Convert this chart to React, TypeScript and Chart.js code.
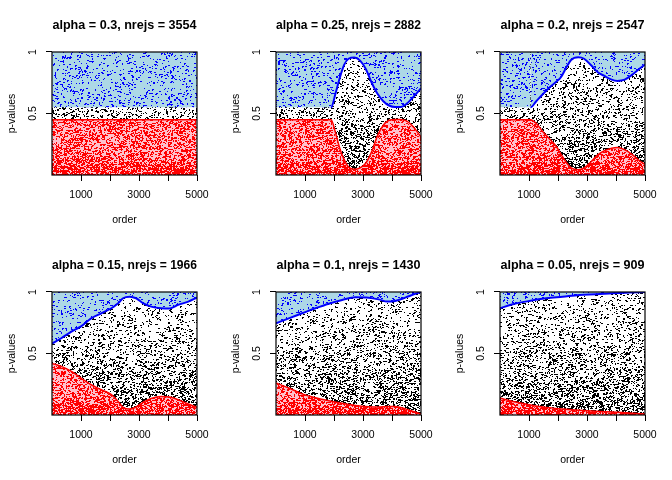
import React, { useEffect, useRef } from "react";
import { Chart, registerables } from "chart.js";

Chart.register(...registerables);

// ---------- data ----------
const panelTitles = [
  "alpha = 0.3, nrejs = 3554",
  "alpha = 0.25, nrejs = 2882",
  "alpha = 0.2, nrejs = 2547",
  "alpha = 0.15, nrejs = 1966",
  "alpha = 0.1, nrejs = 1430",
  "alpha = 0.05, nrejs = 909",
];

const order03 = [0, 5000];
const lower03 = [0.45, 0.45];
const upper03 = [0.55, 0.55];

const order025 = [0, 1900, 2050, 2200, 2350, 2500, 2700, 2900, 3100, 3300, 3500, 3700, 3900, 4100, 4300, 4500, 4700, 5000];
const upper025 = [0.55, 0.55, 0.66, 0.79, 0.895, 0.945, 0.955, 0.93, 0.86, 0.75, 0.66, 0.6, 0.565, 0.553, 0.553, 0.578, 0.625, 0.705];
const lower025 = [0.45, 0.45, 0.345, 0.215, 0.125, 0.065, 0.046, 0.058, 0.098, 0.19, 0.32, 0.405, 0.445, 0.452, 0.452, 0.44, 0.4, 0.31];

const order02 = [0, 1050, 1250, 1450, 1700, 1950, 2100, 2300, 2450, 2700, 2900, 3150, 3350, 3600, 3850, 4050, 4300, 4550, 4800, 5000];
const upper02 = [0.55, 0.55, 0.6, 0.65, 0.71, 0.76, 0.795, 0.88, 0.935, 0.957, 0.945, 0.89, 0.84, 0.805, 0.775, 0.765, 0.775, 0.814, 0.862, 0.898];
const lower02 = [0.45, 0.45, 0.42, 0.36, 0.295, 0.23, 0.17, 0.097, 0.058, 0.043, 0.058, 0.11, 0.16, 0.197, 0.218, 0.224, 0.205, 0.168, 0.118, 0.085];

const order015 = [0, 320, 670, 1000, 1350, 1700, 2050, 2280, 2450, 2680, 2900, 3150, 3420, 3770, 4060, 4350, 4700, 5000];
const upper015 = [0.58, 0.624, 0.678, 0.72, 0.786, 0.827, 0.868, 0.908, 0.949, 0.962, 0.949, 0.908, 0.881, 0.868, 0.866, 0.895, 0.922, 0.955];
const lower015 = [0.42, 0.395, 0.354, 0.3, 0.246, 0.205, 0.165, 0.11, 0.062, 0.048, 0.065, 0.105, 0.135, 0.15, 0.146, 0.124, 0.089, 0.062];

const order01 = [0, 440, 900, 1360, 1820, 2280, 2740, 3200, 3540, 3840, 4110, 4460, 4800, 5000];
const upper01 = [0.745, 0.786, 0.827, 0.868, 0.905, 0.935, 0.958, 0.954, 0.94, 0.922, 0.927, 0.954, 0.985, 1.0];
const lower01 = [0.26, 0.22, 0.172, 0.14, 0.115, 0.095, 0.078, 0.068, 0.065, 0.07, 0.07, 0.05, 0.024, 0.008];

const order005 = [0, 440, 1010, 1590, 2160, 2740, 3310, 3880, 4460, 5000];
const upper005 = [0.868, 0.9, 0.927, 0.949, 0.962, 0.976, 0.981, 0.989, 0.995, 1.0];
const lower005 = [0.138, 0.11, 0.084, 0.062, 0.049, 0.038, 0.03, 0.024, 0.016, 0.008];

// the level at which the upper band is capped (no blue line drawn there)
const flatUpperLevel = 0.55;

const xTickValues = [1000, 2000, 3000, 4000, 5000];
const xTickLabels = ["1000", "", "3000", "", "5000"];
const yTickValues = [0.5, 1];
const yTickLabels = ["0.5", "1"];

const panels = [
  { title: panelTitles[0], order: order03, lower: lower03, upper: upper03 },
  { title: panelTitles[1], order: order025, lower: lower025, upper: upper025 },
  { title: panelTitles[2], order: order02, lower: lower02, upper: upper02 },
  { title: panelTitles[3], order: order015, lower: lower015, upper: upper015 },
  { title: panelTitles[4], order: order01, lower: lower01, upper: upper01 },
  { title: panelTitles[5], order: order005, lower: lower005, upper: upper005 },
];

// ---------- styling ----------
const PANEL_W = 224;
const PANEL_H = 240;
const PLOT_TOP = 52;
const PLOT_BOTTOM = 175;
const FONT = "'Liberation Sans', Arial, Helvetica, sans-serif";

const WHITE = [255, 255, 255];
const BLACK = [0, 0, 0];
const PINK = [255, 192, 203];
const RED = [255, 0, 0];
const LIGHTBLUE = [173, 216, 230];
const BLUE = [0, 0, 255];

// speckle texture (fill style) – deterministic integer hash
function hash01(x: number, y: number, seed: number) {
  let h = (x * 73856093) ^ (y * 19349663) ^ (seed * 83492791);
  h = Math.imul(h ^ (h >>> 16), 0x45d9f3b);
  h = Math.imul(h ^ (h >>> 16), 0x45d9f3b);
  h ^= h >>> 16;
  return (h >>> 0) / 4294967296;
}

function makeTexture(
  ctx: CanvasRenderingContext2D,
  bg: number[],
  fg: number[],
  density: (v: number) => number,
  seed: number
) {
  const tile = document.createElement("canvas");
  tile.width = PANEL_W;
  tile.height = PANEL_H;
  const g = tile.getContext("2d")!;
  const on = new Uint8Array(PANEL_W * PANEL_H);
  const span = PLOT_BOTTOM - PLOT_TOP;
  for (let y = 0; y < PANEL_H; y++) {
    const v = Math.min(1, Math.max(0, (PLOT_BOTTOM - (y + 0.5)) / span));
    const p = density(v) / 1.6;
    for (let x = 0; x < PANEL_W; x++) {
      if (hash01(x, y, seed) < p) {
        on[y * PANEL_W + x] = 1;
        if (hash01(x, y, seed + 101) < 0.45 && x + 1 < PANEL_W) on[y * PANEL_W + x + 1] = 1;
        if (hash01(x, y, seed + 202) < 0.2 && y + 1 < PANEL_H) on[(y + 1) * PANEL_W + x] = 1;
      }
    }
  }
  const img = g.createImageData(PANEL_W, PANEL_H);
  for (let i = 0; i < on.length; i++) {
    const c = on[i] ? fg : bg;
    const k = i * 4;
    img.data[k] = c[0];
    img.data[k + 1] = c[1];
    img.data[k + 2] = c[2];
    img.data[k + 3] = 255;
  }
  g.putImageData(img, 0, 0);
  return ctx.createPattern(tile, "repeat")!;
}

const blackDensity = (v: number) => 0.15 + 0.4 * (1 - v) * (1 - v);
const redDensity = (v: number) => 0.5 + 0.48 * Math.exp(-(v / 0.1) * (v / 0.1));
const blueDensity = (_v: number) => 0.14;

function Panel({ index }: { index: number }) {
  const ref = useRef<HTMLCanvasElement>(null);

  useEffect(() => {
    const canvas = ref.current!;
    const ctx = canvas.getContext("2d")!;
    const p = panels[index];
    const blackTex = makeTexture(ctx, WHITE, BLACK, blackDensity, index * 3 + 1);
    const redTex = makeTexture(ctx, PINK, RED, redDensity, index * 3 + 2);
    const blueTex = makeTexture(ctx, LIGHTBLUE, BLUE, blueDensity, index * 3 + 3);

    const plotBackground = {
      id: "plotBackground",
      beforeDatasetsDraw(chart: any) {
        const a = chart.chartArea;
        const c = chart.ctx;
        c.save();
        c.fillStyle = blackTex;
        c.fillRect(a.left, a.top, a.right - a.left, a.bottom - a.top);
        c.restore();
      },
    };
    const plotBox = {
      id: "plotBox",
      afterDatasetsDraw(chart: any) {
        const a = chart.chartArea;
        const c = chart.ctx;
        c.save();
        c.strokeStyle = "#000";
        c.lineWidth = 1.2;
        c.strokeRect(a.left, a.top, a.right - a.left, a.bottom - a.top);
        c.restore();
      },
    };

    const axisFont = { family: FONT, size: 10.5 };

    const chart = new Chart(canvas, {
      type: "line",
      data: {
        datasets: [
          {
            label: "lower",
            data: p.order.map((o, i) => ({ x: o, y: p.lower[i] })),
            borderColor: "#ff0000",
            borderWidth: 1.5,
            backgroundColor: redTex as any,
            fill: "start",
            pointRadius: 0,
            cubicInterpolationMode: "monotone",
          },
          {
            label: "upper",
            data: p.order.map((o, i) => ({ x: o, y: p.upper[i] })),
            borderColor: "#0000ff",
            borderWidth: 2,
            backgroundColor: blueTex as any,
            fill: "end",
            pointRadius: 0,
            cubicInterpolationMode: "monotone",
            segment: {
              borderColor: (sc: any) =>
                sc.p0.parsed.y <= flatUpperLevel + 1e-6 && sc.p1.parsed.y <= flatUpperLevel + 1e-6
                  ? "rgba(0,0,0,0)"
                  : "#0000ff",
            },
          },
        ],
      },
      options: {
        responsive: false,
        animation: false,
        events: [],
        layout: { padding: { left: 0, right: 27, top: 0, bottom: 0 } },
        plugins: {
          legend: { display: false },
          tooltip: { enabled: false },
          title: {
            display: true,
            text: p.title,
            fullSize: false,
            color: "#000",
            font: { family: FONT, size: 12.6, weight: "bold" },
            padding: { top: 17.7, bottom: 19.18 },
          },
        },
        scales: {
          x: {
            type: "linear",
            min: 0,
            max: 5000,
            afterBuildTicks: (s: any) => {
              s.ticks = xTickValues.map((v) => ({ value: v }));
            },
            afterFit: (s: any) => {
              s.height = PANEL_H - PLOT_BOTTOM;
            },
            ticks: {
              autoSkip: false,
              maxRotation: 0,
              minRotation: 0,
              padding: 7.7,
              color: "#000",
              font: axisFont,
              callback: (_v: any, i: number) => xTickLabels[i],
            },
            grid: { drawOnChartArea: false, drawTicks: true, tickLength: 6, color: "#000", lineWidth: 1 },
            border: { display: false },
            title: {
              display: true,
              text: "order",
              color: "#000",
              font: axisFont,
              padding: { top: 0, bottom: 13.4 },
            },
          },
          y: {
            type: "linear",
            min: 0,
            max: 1,
            afterBuildTicks: (s: any) => {
              s.ticks = yTickValues.map((v) => ({ value: v }));
            },
            afterFit: (s: any) => {
              s.width = 52;
            },
            ticks: {
              autoSkip: false,
              minRotation: 90,
              maxRotation: 90,
              crossAlign: "center",
              padding: 5.4,
              color: "#000",
              font: axisFont,
              callback: (_v: any, i: number) => yTickLabels[i],
            },
            grid: { drawOnChartArea: false, drawTicks: true, tickLength: 6, color: "#000", lineWidth: 1 },
            border: { display: false },
            title: {
              display: true,
              text: "p-values",
              color: "#000",
              font: axisFont,
              padding: { top: 5.7, bottom: 0 },
            },
          },
        },
      } as any,
      plugins: [plotBackground, plotBox],
    });
    return () => chart.destroy();
  }, [index]);

  const col = index % 3;
  const row = Math.floor(index / 3);
  return (
    <canvas
      ref={ref}
      width={PANEL_W}
      height={PANEL_H}
      style={{ position: "absolute", left: col * PANEL_W, top: row * PANEL_H, width: PANEL_W, height: PANEL_H }}
    />
  );
}

export default function App() {
  return (
    <div style={{ position: "absolute", left: 0, top: 0, width: 672, height: 480, background: "#fff", overflow: "hidden" }}>
      {panels.map((_, i) => (
        <Panel key={i} index={i} />
      ))}
    </div>
  );
}
